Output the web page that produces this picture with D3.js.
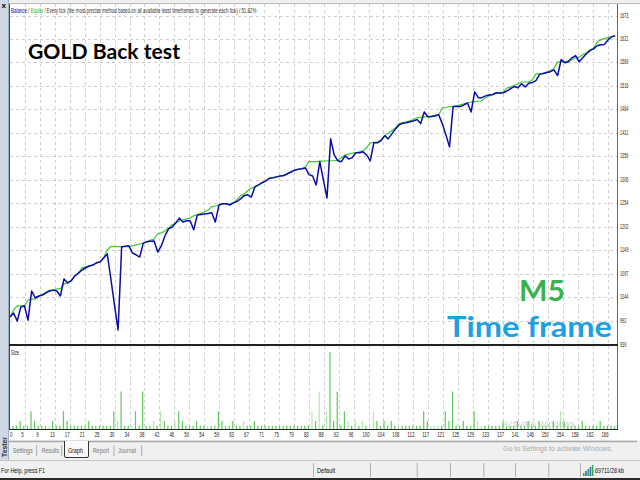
<!DOCTYPE html>
<html>
<head>
<meta charset="utf-8">
<script src="https://cdn.jsdelivr.net/npm/d3@7"></script>
<style>
body { margin: 0; background: #f0f0f0; }
svg { display: block; }
</style>
</head>
<body>
<script>
'use strict';

// equity per point (initial deposit + one point per closed trade)
let equity = [
  1000, 1009, 991, 1022, 1025, 993, 1058, 1043, 1047, 1049,
  1054, 1058, 1060, 1058, 1047, 1085, 1076, 1081, 1092, 1098,
  1105, 1110, 1114, 1116, 1121, 1123, 1132, 1141, 1085, 1027,
  971, 1157, 1158, 1159, 1143, 1139, 1134, 1165, 1168, 1169,
  1170, 1145, 1159, 1181, 1197, 1201, 1210, 1221, 1212, 1215,
  1215, 1195, 1228, 1229, 1230, 1231, 1233, 1212, 1250, 1253,
  1253, 1250, 1255, 1258, 1264, 1271, 1273, 1268, 1291, 1295,
  1300, 1304, 1310, 1311, 1313, 1315, 1316, 1320, 1324, 1328,
  1330, 1331, 1333, 1318, 1315, 1295, 1347, 1306, 1266, 1398,
  1362, 1349, 1347, 1360, 1353, 1356, 1367, 1367, 1369, 1362,
  1349, 1389, 1389, 1394, 1405, 1398, 1409, 1420, 1429, 1433,
  1434, 1436, 1438, 1441, 1432, 1458, 1447, 1448, 1449, 1452,
  1432, 1407, 1380, 1470, 1470, 1470, 1474, 1478, 1458, 1503,
  1490, 1490, 1494, 1496, 1497, 1501, 1500, 1501, 1505, 1510,
  1515, 1512, 1521, 1514, 1522, 1524, 1528, 1542, 1544, 1546,
  1548, 1552, 1539, 1575, 1568, 1570, 1579, 1584, 1570, 1579,
  1588, 1595, 1599, 1606, 1608, 1609, 1619, 1626, 1628
];

let balance = [
  1000, 1016, 1025, 1025, 1025, 1038, 1040, 1040, 1045, 1051,
  1056, 1060, 1060, 1063, 1063, 1074, 1076, 1081, 1092, 1098,
  1110, 1112, 1114, 1116, 1121, 1123, 1132, 1150, 1157, 1157,
  1157, 1157, 1157, 1157, 1159, 1161, 1163, 1165, 1168, 1172,
  1174, 1186, 1188, 1192, 1199, 1206, 1210, 1215, 1217, 1219,
  1221, 1226, 1229, 1231, 1235, 1239, 1246, 1248, 1250, 1253,
  1253, 1253, 1255, 1262, 1271, 1275, 1282, 1288, 1291, 1295,
  1300, 1304, 1310, 1311, 1313, 1315, 1316, 1320, 1324, 1328,
  1330, 1331, 1335, 1347, 1347, 1347, 1348, 1348, 1349, 1349,
  1349, 1351, 1356, 1362, 1364, 1366, 1367, 1369, 1371, 1378,
  1389, 1390, 1391, 1396, 1405, 1411, 1416, 1423, 1432, 1434,
  1436, 1438, 1441, 1445, 1446, 1447, 1448, 1449, 1451, 1452,
  1467, 1468, 1470, 1470, 1472, 1474, 1476, 1478, 1480, 1481,
  1482, 1483, 1490, 1494, 1497, 1501, 1501, 1503, 1512, 1514,
  1517, 1521, 1525, 1525, 1525, 1530, 1543, 1543, 1544, 1547,
  1550, 1555, 1570, 1570, 1570, 1572, 1575, 1579, 1581, 1586,
  1590, 1597, 1601, 1615, 1619, 1622, 1624, 1626, 1628
];

// lot size of each trade (trade 1 .. 168)
let lots = [
  .01, .01, .02, .01, .01, .04, .02, .01, .01, .01,
  .01, .02, .01, .01, .04, .02, .01, .01, .01, .01,
  .01, .02, .01, .01, .01, .01, .01, .01, .04, .02,
  .08, .01, .01, .01, .04, .01, .08, .01, .01, .02,
  .01, .04, .02, .01, .01, .02, .04, .02, .01, .01,
  .01, .02, .01, .01, .01, .01, .01, .04, .02, .01,
  .01, .02, .01, .01, .02, .01, .01, .02, .01, .01,
  .01, .01, .01, .01, .01, .01, .01, .01, .01, .01,
  .01, .01, .01, .04, .02, .08, .01, .04, .16, .02,
  .08, .01, .04, .02, .01, .02, .01, .02, .01, .01,
  .04, .02, .01, .02, .01, .02, .01, .01, .01, .01,
  .01, .01, .01, .01, .04, .02, .01, .01, .01, .01,
  .04, .02, .08, .01, .01, .02, .01, .01, .04, .02,
  .01, .01, .01, .01, .01, .01, .02, .01, .01, .01,
  .02, .01, .01, .02, .01, .01, .02, .01, .01, .01,
  .02, .01, .04, .02, .01, .01, .01, .01, .02, .01,
  .01, .01, .01, .02, .01, .01, .01, .01
];
// trades (0-based) whose size bar is pale
let paleTrades = [10, 29, 33, 39, 41, 45, 54, 64, 83, 85, 87, 93, 95, 97, 99, 100, 107, 116, 117, 118, 129, 130, 149, 152];

let priceTicks = [939, 992, 1044, 1097, 1149, 1202, 1254, 1306, 1359, 1411, 1464, 1516, 1569, 1621, 1673];
let tradeTicks = ['0', '5', '9', '13', '17', '21', '25', '30', '34', '38', '42', '46', '50', '54', '59',
  '63', '67', '71', '75', '79', '83', '88', '92', '96', '100', '104', '108', '112', '117', '121',
  '125', '129', '133', '137', '141', '146', '150', '154', '158', '162', '166'];
let tradeStep = 4.147;

let tabs = ['Settings', 'Results', 'Graph', 'Report', 'Journal'];
let activeTab = 'Graph';

let width = 640;
let height = 480;
let axisFont = '"Liberation Sans", Arial, sans-serif';
let titleFont = 'Lato, "Open Sans", sans-serif';

let fit = (t, w) => t.attr('textLength', w).attr('lengthAdjust', 'spacingAndGlyphs');

let svg = d3.select('body').append('svg')
  .attr('width', width)
  .attr('height', height)
  .style('font-family', axisFont);

svg.append('rect').attr('width', width).attr('height', height).attr('fill', '#f0f0f0');
svg.append('rect').attr('x', 9).attr('y', 3).attr('width', 631).attr('height', 437).attr('fill', '#fff');

// left tool strip
svg.append('rect').attr('x', 0).attr('y', 0).attr('width', 8.5).attr('height', 461).attr('fill', '#cdd8e4');
svg.append('line').attr('x1', 8.5).attr('x2', 8.5).attr('y1', 0).attr('y2', 461).attr('stroke', '#9fb0c2');
svg.append('text').attr('x', 1.5).attr('y', 8).attr('font-size', 8).attr('font-weight', 'bold').text('x');
fit(svg.append('text')
  .attr('transform', 'translate(6.5,457) rotate(-90)')
  .attr('font-size', 7).attr('font-weight', 'bold').attr('fill', '#333')
  .text('Tester'), 20);

let x = d3.scaleLinear().domain([0, 168.5]).range([10, 617]);
let y = d3.scaleLinear().domain([939, 1697]).range([344.3, 5]);
let ySize = d3.scaleLinear().domain([0.003, 0.173]).range([429.3, 346]);

// grid
let grid = svg.append('g')
  .attr('stroke', '#cfcfcf')
  .attr('stroke-dasharray', '3,3');

grid.selectAll('.vgrid')
  .data(tradeTicks.slice(1))
  .enter().append('line')
    .attr('x1', (d, i) => Math.round(x((i + 1) * tradeStep)) + 0.5)
    .attr('x2', (d, i) => Math.round(x((i + 1) * tradeStep)) + 0.5)
    .attr('y1', 4)
    .attr('y2', 429);

grid.selectAll('.hgrid')
  .data(priceTicks.slice(1))
  .enter().append('line')
    .attr('x1', 10)
    .attr('x2', 617)
    .attr('y1', d => Math.round(y(d)) + 0.5)
    .attr('y2', d => Math.round(y(d)) + 0.5);

// balance & equity
let line = d3.line()
  .x((d, i) => x(i))
  .y(d => y(d));

svg.append('path')
  .datum(balance)
  .attr('d', line)
  .attr('fill', 'none')
  .attr('stroke', '#3cc83c')
  .attr('stroke-width', 1.2);

svg.append('path')
  .datum(equity)
  .attr('d', line)
  .attr('fill', 'none')
  .attr('stroke', '#0c0ca8')
  .attr('stroke-width', 1.5)
  .attr('stroke-linejoin', 'round');

// size histogram
svg.append('g').selectAll('line')
  .data(lots)
  .enter().append('line')
    .attr('x1', (d, i) => x(i + 1) - 0.6)
    .attr('x2', (d, i) => x(i + 1) - 0.6)
    .attr('y1', ySize.range()[0])
    .attr('y2', d => ySize(d))
    .attr('stroke', (d, i) => paleTrades.indexOf(i) >= 0 ? '#b4e6b0' : '#5ccc58')
    .attr('stroke-width', 1.2);

// frame
let frame = svg.append('g').attr('stroke', '#444');
frame.append('line').attr('x1', 9.5).attr('x2', 9.5).attr('y1', 3).attr('y2', 430);
frame.append('line').attr('x1', 617.5).attr('x2', 617.5).attr('y1', 3).attr('y2', 430).attr('stroke', '#666');
frame.append('line').attr('x1', 9).attr('x2', 618).attr('y1', 345).attr('y2', 345).attr('stroke-width', 2).attr('stroke', '#222');
frame.append('line').attr('x1', 9).attr('x2', 618).attr('y1', 429.5).attr('y2', 429.5).attr('stroke', '#222');
frame.append('line').attr('x1', 9).attr('x2', 640).attr('y1', 3.5).attr('y2', 3.5).attr('stroke', '#bbb');

// price axis
svg.append('g').selectAll('text')
  .data(priceTicks)
  .enter().append('text')
    .attr('x', 620)
    .attr('y', d => y(d) + 2.2)
    .attr('font-size', 6.5)
    .attr('fill', '#222')
    .text(d => d)
    .each(function(d) { fit(d3.select(this), String(d).length * 2.1); });

// trade axis
svg.append('g').selectAll('text')
  .data(tradeTicks)
  .enter().append('text')
    .attr('x', (d, i) => i === 0 ? 10 : x(i * tradeStep) - 2.5)
    .attr('y', 437.3)
    .attr('text-anchor', (d, i) => i === 0 ? 'start' : 'middle')
    .attr('font-size', 6.5)
    .attr('fill', '#222')
    .text(d => d)
    .each(function(d) { fit(d3.select(this), d.length * 2.4); });

// legend: natural text squeezed horizontally to the width it has in the tester
let legendG = svg.append('g');
let legend = legendG.append('text').attr('font-size', 6.5).attr('fill', '#333');
legend.append('tspan').attr('fill', '#0000b4').text('Balance');
legend.append('tspan').text(' / ');
legend.append('tspan').attr('fill', '#22b022').text('Equity');
legend.append('tspan').text(' / Every tick (the most precise method based on all available least timeframes to generate each tick) / 51.82%');
let legendW = legend.node().getComputedTextLength();
legendG.attr('transform', 'translate(11,13) scale(' + (246 / legendW) + ',1)');

fit(svg.append('text').attr('x', 11).attr('y', 355).attr('font-size', 6.5).attr('fill', '#222').text('Size'), 8);

// captions
fit(svg.append('text')
  .attr('x', 28).attr('y', 59)
  .attr('font-family', titleFont)
  .attr('font-weight', 'bold').attr('font-size', 21)
  .text('GOLD Back test'), 152);
fit(svg.append('text')
  .attr('x', 519).attr('y', 301)
  .attr('font-family', titleFont)
  .attr('font-weight', 'bold').attr('font-size', 28).attr('fill', '#3db14c')
  .text('M5'), 46);
fit(svg.append('text')
  .attr('x', 447).attr('y', 337)
  .attr('font-family', titleFont)
  .attr('font-weight', 'bold').attr('font-size', 28).attr('fill', '#1ba0e2')
  .text('Time frame'), 165);

// tabs
svg.append('line').attr('x1', 9).attr('x2', 637).attr('y1', 441.5).attr('y2', 441.5).attr('stroke', '#a8a8a8').attr('stroke-width', 1.5);
let tabX = [12.7, 41.7, 68, 92.7, 118];
let tabW = [20, 17.3, 15, 16.3, 18];
svg.append('path')
  .attr('d', 'M64.5,441V456Q64.5,457.5 66,457.5H87Q88.5,457.5 88.5,456V441')
  .attr('fill', '#fafafa').attr('stroke', '#333');
svg.append('g').selectAll('text')
  .data(tabs)
  .enter().append('text')
    .attr('x', (d, i) => tabX[i])
    .attr('y', 453)
    .attr('font-size', 7.5)
    .attr('fill', d => d === activeTab ? '#111' : '#777')
    .text(d => d)
    .each(function(d, i) { fit(d3.select(this), tabW[i]); });
svg.append('g').selectAll('line')
  .data([36.7, 61.7, 114, 141.7])
  .enter().append('line')
    .attr('x1', d => d).attr('x2', d => d)
    .attr('y1', 445).attr('y2', 456)
    .attr('stroke', '#aaa');

// windows watermark
fit(svg.append('text').attr('x', 503).attr('y', 427).attr('font-size', 9).attr('fill', '#999').attr('opacity', 0.45).text('Activate Windows'), 72);
fit(svg.append('text').attr('x', 503).attr('y', 451).attr('font-size', 8).attr('fill', '#999').attr('opacity', 0.8).text('Go to Settings to activate Windows.'), 110);

// status bar
svg.append('line').attr('x1', 0).attr('x2', 640).attr('y1', 460.5).attr('y2', 460.5).attr('stroke', '#c4c4c4');
svg.append('rect').attr('x', 0).attr('y', 478).attr('width', 640).attr('height', 2).attr('fill', '#2a2a2a');
fit(svg.append('text').attr('x', 1).attr('y', 473).attr('font-size', 7.5).attr('fill', '#111').text('For Help, press F1'), 44);
fit(svg.append('text').attr('x', 317).attr('y', 473).attr('font-size', 7.5).attr('fill', '#111').text('Default'), 18);
fit(svg.append('text').attr('x', 595).attr('y', 473).attr('font-size', 7.5).attr('fill', '#111').text('69711/28 kb'), 29);
svg.append('g').selectAll('line')
  .data([313, 370, 416.7, 450, 483.3, 515, 548.3, 580])
  .enter().append('line')
    .attr('x1', d => d + 0.5).attr('x2', d => d + 0.5)
    .attr('y1', 463).attr('y2', 477)
    .attr('stroke', '#b0b0b0');
svg.append('g').selectAll('rect')
  .data([3, 5, 7, 9, 11])
  .enter().append('rect')
    .attr('x', (d, i) => 583 + i * 2.2)
    .attr('y', d => 476 - d)
    .attr('width', 1.6)
    .attr('height', d => d)
    .attr('fill', (d, i) => i % 2 ? '#2a6bd1' : '#3aa83a');
</script>
</body>
</html>
